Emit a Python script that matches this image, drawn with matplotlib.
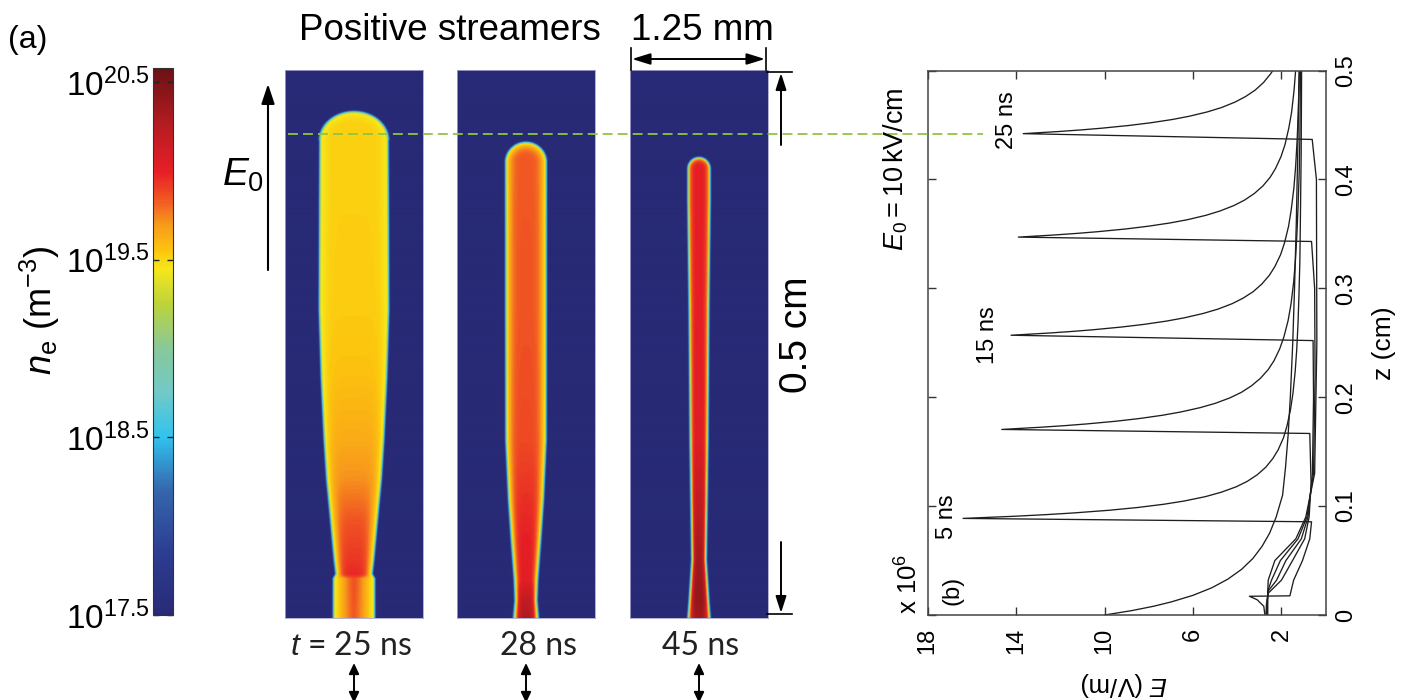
import numpy as np
import matplotlib
matplotlib.use("Agg")
import matplotlib.pyplot as plt
from matplotlib.colors import LinearSegmentedColormap, Normalize
from matplotlib.cm import ScalarMappable

plt.rcParams['font.family'] = ['Liberation Sans', 'DejaVu Sans']
plt.rcParams['mathtext.fontset'] = 'custom'
plt.rcParams['mathtext.rm'] = 'Liberation Sans'
plt.rcParams['mathtext.it'] = 'Liberation Sans:italic'
plt.rcParams['mathtext.bf'] = 'Liberation Sans:bold'

# ---------------- data ----------------
# colour scale for log10 of the electron density (m^-3)
ne_min, ne_max = 17.5, 20.58
ne_ticks = [17.5, 18.5, 19.5, 20.5]
ne_ticklabels = [r'$10^{17.5}$', r'$10^{18.5}$', r'$10^{19.5}$', r'$10^{20.5}$']

# streamer snapshots: axial position z (mm), channel radius (mm), on-axis log10 density,
# and the steepness of the radial density profile towards the channel edge
panel_times = ['$t$ = 25 ns', '28 ns', '45 ns']

z_25 = [0.0, 0.36, 0.40, 0.53, 0.89, 1.26, 1.62, 2.2, 2.81, 3.81, 4.4]
r_25 = [0.175, 0.175, 0.152, 0.167, 0.200, 0.235, 0.258, 0.285, 0.303, 0.300, 0.297]
core_25 = [19.84, 19.86, 19.97, 19.93, 19.85, 19.72, 19.64, 19.57, 19.53, 19.52, 19.52]
edge_25 = [1.3, 1.3, 4, 4, 4, 5, 6, 6, 6, 6, 6]
rim_25, tip_25, cap_25 = 19.42, 4.61, 0.25

z_28 = [0.0, 0.16, 0.35, 0.71, 1.08, 1.62, 2.81, 3.36, 4.09]
r_28 = [0.10, 0.087, 0.094, 0.121, 0.146, 0.170, 0.172, 0.172, 0.173]
core_28 = [20.3, 20.2, 20.02, 20.0, 19.95, 19.88, 19.85, 19.85, 19.84]
edge_28 = [3, 4, 4, 4, 4, 4, 4, 4, 4]
rim_28, tip_28, cap_28 = 19.45, 4.33, 0.17

z_45 = [0.0, 0.16, 0.53, 1.08, 1.62, 2.81, 3.81]
r_45 = [0.088, 0.076, 0.053, 0.061, 0.068, 0.076, 0.088]
core_45 = [20.35, 20.4, 20.35, 20.2, 20.05, 20.0, 20.0]
edge_45 = [3, 4, 4, 4, 4, 4, 4]
rim_45, tip_45, cap_45 = 19.65, 4.19, 0.09

# axial field profiles: z (cm), E (10^6 V/m)
z_t0 = [0, 0.004, 0.008, 0.012, 0.018, 0.025, 0.033, 0.042, 0.052, 0.063, 0.075,
        0.09, 0.11, 0.135, 0.165, 0.2, 0.25, 0.3, 0.36, 0.43, 0.5]
E_t0 = [10.0, 8.78, 7.79, 6.99, 6.01, 5.15, 4.42, 3.80, 3.29, 2.88, 2.54,
        2.24, 1.95, 1.82, 1.70, 1.60, 1.49, 1.41, 1.33, 1.26, 1.2]

z_t5 = [0, 0.008, 0.014, 0.0172, 0.0176, 0.032, 0.05, 0.07, 0.0856,
        0.0887, 0.0907, 0.0922, 0.0937, 0.0962, 0.0987, 0.1017, 0.1047, 0.1087, 0.1127,
        0.1177, 0.1227, 0.1287, 0.1357, 0.1437, 0.1517, 0.1627, 0.1737, 0.1887, 0.2037,
        0.2237, 0.2437, 0.2687, 0.2937, 0.3237, 0.3537, 0.3887, 0.4237, 0.4587, 0.5]
E_t5 = [2.75, 2.8, 3.1, 3.45, 1.62, 1.45, 1.05, 0.72, 0.64,
        16.4, 14.04, 12.62, 11.41, 9.78, 8.51, 7.32, 6.39, 5.44, 4.73,
        4.05, 3.55, 3.10, 2.71, 2.39, 2.15, 1.91, 1.75, 1.59, 1.48,
        1.38, 1.31, 1.25, 1.21, 1.17, 1.15, 1.13, 1.11, 1.10, 1.09]

z_t10 = [0, 0.01, 0.02, 0.032, 0.05, 0.07, 0.09, 0.12, 0.1667,
         0.1704, 0.1724, 0.1739, 0.1754, 0.1779, 0.1804, 0.1834, 0.1864, 0.1904, 0.1944,
         0.1994, 0.2044, 0.2104, 0.2174, 0.2254, 0.2334, 0.2444, 0.2554, 0.2704, 0.2854,
         0.3054, 0.3254, 0.3504, 0.3754, 0.4054, 0.4354, 0.5]
E_t10 = [2.7, 2.68, 2.6, 2.0, 1.5, 0.95, 0.75, 0.66, 0.72,
         14.65, 12.9, 11.79, 10.84, 9.51, 8.43, 7.39, 6.56, 5.68, 4.99,
         4.33, 3.82, 3.36, 2.95, 2.60, 2.34, 2.08, 1.89, 1.70, 1.57,
         1.45, 1.37, 1.30, 1.25, 1.20, 1.17, 1.14]

z_t15 = [0, 0.01, 0.022, 0.032, 0.05, 0.07, 0.09, 0.13, 0.2, 0.252,
         0.2569, 0.2589, 0.2604, 0.2619, 0.2644, 0.2669, 0.2699, 0.2729, 0.2769, 0.2809,
         0.2859, 0.2909, 0.2969, 0.3039, 0.3119, 0.3199, 0.3309, 0.3419, 0.3569, 0.3719,
         0.3919, 0.4119, 0.4369, 0.4619, 0.5]
E_t15 = [2.68, 2.66, 2.6, 2.22, 1.8, 1.1, 0.8, 0.6, 0.55, 0.57,
         14.23, 12.53, 11.46, 10.54, 9.25, 8.21, 7.20, 6.39, 5.54, 4.87,
         4.23, 3.74, 3.28, 2.89, 2.55, 2.30, 2.04, 1.86, 1.68, 1.56,
         1.44, 1.36, 1.29, 1.24, 1.19]

z_t20 = [0, 0.01, 0.022, 0.032, 0.05, 0.07, 0.09, 0.13, 0.22, 0.3, 0.343,
         0.347, 0.349, 0.3505, 0.352, 0.3545, 0.357, 0.36, 0.363, 0.367, 0.371,
         0.376, 0.381, 0.387, 0.394, 0.402, 0.41, 0.421, 0.432, 0.447, 0.462,
         0.482, 0.5]
E_t20 = [2.65, 2.64, 2.62, 2.45, 2.05, 1.25, 0.85, 0.55, 0.48, 0.5, 0.64,
         13.9, 12.24, 11.20, 10.30, 9.04, 8.03, 7.04, 6.25, 5.42, 4.78,
         4.15, 3.67, 3.23, 2.84, 2.51, 2.27, 2.02, 1.84, 1.67, 1.54,
         1.43, 1.36]

z_t25 = [0, 0.01, 0.022, 0.032, 0.05, 0.07, 0.09, 0.13, 0.25, 0.4, 0.4367,
         0.442, 0.444, 0.4455, 0.447, 0.4495, 0.452, 0.455, 0.458, 0.462, 0.466,
         0.471, 0.476, 0.482, 0.489, 0.497, 0.5]
E_t25 = [2.62, 2.62, 2.62, 2.6, 2.3, 1.35, 0.9, 0.5, 0.4, 0.42, 0.61,
         13.68, 12.05, 11.03, 10.14, 8.91, 7.91, 6.94, 6.17, 5.35, 4.71,
         4.10, 3.63, 3.19, 2.81, 2.49, 2.39]

E_ticks = [18, 14, 10, 6, 2]
z_ticks = [0, 0.1, 0.2, 0.3, 0.4, 0.5]
z_ticklabels = ['0', '0.1', '0.2', '0.3', '0.4', '0.5']

# ---------------- figure ----------------
W, H = 1402, 700
fig = plt.figure(figsize=(W / 100, H / 100), dpi=100)


def px_rect(x0, y0, x1, y1):
    return [x0 / W, 1 - y1 / H, (x1 - x0) / W, (y1 - y0) / H]


anchors = [(17.5, '#282a76'), (17.85, '#2c3d92'), (18.2, '#3566ae'), (18.5, '#2fc3ee'),
           (18.75, '#72c9c8'), (19.0, '#88c89a'), (19.25, '#bcd33c'), (19.45, '#f6e71a'),
           (19.55, '#fdc60e'), (19.7, '#f89a1c'), (19.85, '#f05423'), (20.0, '#e61f26'),
           (20.25, '#b81c22'), (20.58, '#6a1214')]
cmap = LinearSegmentedColormap.from_list(
    'ne', [((v - ne_min) / (ne_max - ne_min), c) for v, c in anchors])
norm = Normalize(ne_min, ne_max)

r_grid = np.linspace(-0.625, 0.625, 276)
zz_grid = np.linspace(0, 5, 1100)


def density_map(z_pts, r_pts, core_pts, edge_pts, rim, tip, cap, delta=0.03):
    rr, zz = np.meshgrid(r_grid, zz_grid)
    R = np.interp(zz, z_pts, r_pts)
    C = np.interp(zz, z_pts, core_pts)
    p = np.interp(zz, z_pts, edge_pts)
    zc = tip - cap
    Rc = np.interp(zc, z_pts, r_pts)
    ar = np.abs(rr)
    rho = ar / R
    dist = ar - R
    in_cap = zz > zc
    s = np.sqrt((ar / Rc) ** 2 + ((zz - zc) / cap) ** 2)
    rho = np.where(in_cap, s, rho)
    dist = np.where(in_cap, (s - 1) * min(Rc, cap), dist)
    inner = C + (rim - C) * np.clip(rho, 0, 1) ** p
    outer = rim - (rim - ne_min) * np.clip(dist / delta, 0, 1)
    return np.where(rho <= 1, inner, outer)


snapshots = [
    (z_25, r_25, core_25, edge_25, rim_25, tip_25, cap_25),
    (z_28, r_28, core_28, edge_28, rim_28, tip_28, cap_28),
    (z_45, r_45, core_45, edge_45, rim_45, tip_45, cap_45),
]
panel_x = [(285.3, 423.3), (457.5, 595.5), (629.7, 767.5)]
label_x = [351, 538, 701]
for (x0, x1), snap in zip(panel_x, snapshots):
    ax = fig.add_axes(px_rect(x0, 70, x1, 618))
    ax.imshow(density_map(*snap), origin='lower', extent=[-0.625, 0.625, 0, 5],
              aspect='auto', interpolation='bilinear', cmap=cmap, norm=norm)
    ax.set_xticks([])
    ax.set_yticks([])
    for sp in ax.spines.values():
        sp.set_color('#a4a4cc')
        sp.set_linewidth(0.6)

# colour bar
cax = fig.add_axes(px_rect(153, 68, 172.5, 615))
cb = fig.colorbar(ScalarMappable(norm=norm, cmap=cmap), cax=cax)
cb.set_ticks(ne_ticks)
cb.set_ticklabels(ne_ticklabels)
cax.yaxis.set_ticks_position('both')
cax.tick_params(axis='y', direction='in', length=4, width=1, color='#222222',
                labelleft=True, labelright=False, labelsize=24, pad=2)
cb.outline.set_linewidth(0.8)
cb.outline.set_edgecolor('#333333')

# field profiles
ax_r = fig.add_axes(px_rect(927.7, 70.5, 1325.7, 615))
profiles = [(E_t0, z_t0), (E_t5, z_t5), (E_t10, z_t10), (E_t15, z_t15),
            (E_t20, z_t20), (E_t25, z_t25)]
for E, z in profiles:
    ax_r.plot(E, z, color='#1e1e1e', lw=0.95)
ax_r.set_xlim(18, 0)
ax_r.set_ylim(0, 0.5)
ax_r.set_xticks(E_ticks)
ax_r.set_xticklabels([str(v) for v in E_ticks])
ax_r.set_yticks(z_ticks)
ax_r.set_yticklabels(z_ticklabels)
ax_r.tick_params(axis='x', direction='in', top=True, bottom=True, length=6, width=1,
                 labelsize=17, pad=9, color='#333333')
ax_r.tick_params(axis='y', direction='in', left=True, right=True, labelleft=False,
                 labelright=True, length=6, width=1, labelsize=17, pad=7, color='#333333')
for lbl in ax_r.get_xticklabels():
    lbl.set_rotation(90)
    lbl.set_ha('center')
    lbl.set_va('top')
for lbl in ax_r.get_yticklabels():
    lbl.set_rotation(90)
    lbl.set_va('center')
for sp in ax_r.spines.values():
    sp.set_color('#444444')
    sp.set_linewidth(1.1)

ax_r.text(17.13, 0.09, '5 ns', rotation=90, ha='center', va='center', fontsize=17)
ax_r.text(15.27, 0.257, '15 ns', rotation=90, ha='center', va='center', fontsize=17)
ax_r.text(14.42, 0.454, '25 ns', rotation=90, ha='center', va='center', fontsize=17)
ax_r.text(16.86, 0.023, '(b)', rotation=90, ha='center', va='center', fontsize=17)

# overlay in pixel coordinates for annotations
ov = fig.add_axes([0, 0, 1, 1], zorder=10)
ov.set_xlim(0, W)
ov.set_ylim(H, 0)
ov.axis('off')

# dashed line at the 25 ns streamer head
head_disp = ax_r.transData.transform((0, z_t25[11]))[1]
y_head = H - head_disp
ov.plot([288, 983], [y_head, y_head], color='#8dc63f', lw=1.3, dashes=(5.5, 2.8))

ov.text(8, 40, '(a)', fontsize=23, ha='left', va='center')
ov.text(40, 310, r'$n_\mathrm{e}$ (m$^{-3}$)', rotation=90, fontsize=26,
        ha='center', va='center')
ov.text(450, 30, 'Positive streamers', fontsize=26.5, ha='center', va='center')
ov.text(702, 30, '1.25 mm', fontsize=26.5, ha='center', va='center')
ov.text(243, 175, r'$E_0$', fontsize=28, ha='center', va='center')
ov.text(797, 335, '0.5 cm', rotation=90, fontsize=28, ha='center', va='center')

for xl, txt in zip(label_x, panel_times):
    ov.text(xl, 646, txt, fontsize=23, ha='center', va='center',
            family=['Lato', 'DejaVu Sans'], color='#222222')

ov.text(896, 169, r'$E_0 = 10\,$kV/cm', rotation=90, fontsize=19.5,
        ha='center', va='center')
ov.text(909, 584, r'x 10$^6$', rotation=90, fontsize=18.5, ha='center', va='center')
ov.text(1124, 684, r'$E$ (V/m)', rotation=180, fontsize=18.5, ha='center', va='center')
ov.text(1384, 343, 'z (cm)', rotation=90, fontsize=19, ha='center', va='center')


def arrow(x0, y0, x1, y1, style, ms=20, lw=1.5):
    ov.annotate('', xy=(x1, y1), xytext=(x0, y0), annotation_clip=False,
                arrowprops=dict(arrowstyle=style, color='k', lw=lw, mutation_scale=ms,
                                shrinkA=0, shrinkB=0))


# field direction arrow
arrow(268, 270, 268, 84, '-|>,head_length=0.6,head_width=0.2')
# width marker
ov.plot([631, 631], [48, 70], color='k', lw=1.2)
ov.plot([766, 766], [48, 70], color='k', lw=1.2)
arrow(632, 59, 765, 59, '<|-|>,head_length=0.55,head_width=0.17', lw=1.4)
# height marker
ov.plot([767, 792], [72, 72], color='k', lw=1.2)
ov.plot([767, 792], [614, 614], color='k', lw=1.2)
arrow(781, 145, 781, 73, '-|>,head_length=0.5,head_width=0.16', lw=1.4)
arrow(781, 542, 781, 613, '-|>,head_length=0.5,head_width=0.16', lw=1.4)
# small markers under each snapshot
for xc in [354, 526, 699]:
    arrow(xc, 663, xc, 703, '<|-|>,head_length=0.32,head_width=0.15', lw=1.4)

fig.savefig('out.png', dpi=100)
